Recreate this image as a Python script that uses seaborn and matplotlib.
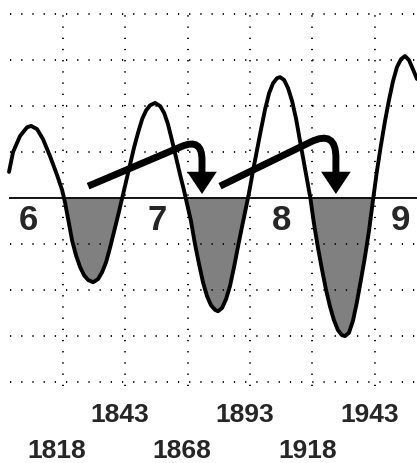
import matplotlib
matplotlib.use('Agg')
import matplotlib.pyplot as plt
import seaborn as sns
import numpy as np

# long wave (x in years, y in grid steps)
years = [1798.8, 1800.4, 1803.2, 1806.0, 1807.6, 1810.0, 1812.4, 1815.2, 1818.0, 1820.0,
         1821.2, 1822.4, 1824.0, 1825.6, 1827.2, 1828.8, 1830.4, 1832.4, 1834.4, 1836.0,
         1837.6, 1839.2, 1840.8, 1842.4, 1844.0, 1845.6, 1847.2, 1848.8, 1850.4, 1852.0,
         1853.6, 1855.2, 1857.2, 1859.2, 1860.8, 1862.3, 1863.9, 1865.5, 1867.1, 1868.7,
         1869.9, 1871.5, 1873.1, 1874.7, 1876.3, 1877.9, 1879.5, 1881.1, 1882.3, 1883.9,
         1885.5, 1887.1, 1888.7, 1890.3, 1891.9, 1893.5, 1894.7, 1896.3, 1897.9, 1899.5,
         1901.1, 1902.7, 1904.3, 1905.9, 1907.1, 1908.7, 1910.3, 1911.9, 1913.5, 1915.0,
         1916.6, 1918.2, 1919.2, 1920.6, 1922.2, 1923.8, 1925.4, 1927.0, 1928.6, 1930.2,
         1931.8, 1933.0, 1934.6, 1936.2, 1937.8, 1939.4, 1941.0, 1942.6, 1944.2, 1945.8,
         1947.4, 1949.0, 1950.6, 1952.2, 1953.8, 1955.4, 1957.0, 1958.6, 1960.2, 1961.8]
values = [0.57, 1.00, 1.35, 1.54, 1.57, 1.50, 1.28, 0.91, 0.50, 0.18,
          -0.10, -0.45, -0.92, -1.25, -1.50, -1.68, -1.78, -1.83, -1.76, -1.61,
          -1.39, -1.07, -0.72, -0.37, 0.00, 0.37, 0.74, 1.11, 1.43, 1.72,
          1.91, 2.02, 2.07, 2.00, 1.85, 1.61, 1.26, 0.89, 0.52, 0.17,
          -0.12, -0.50, -1.00, -1.43, -1.83, -2.13, -2.33, -2.43, -2.46, -2.39,
          -2.20, -1.91, -1.50, -1.05, -0.62, -0.20, 0.12, 0.60, 1.05, 1.50,
          1.93, 2.28, 2.50, 2.61, 2.63, 2.57, 2.39, 2.11, 1.72, 1.26,
          0.78, 0.30, 0.00, -0.54, -1.07, -1.54, -1.98, -2.35, -2.65, -2.87,
          -2.98, -3.00, -2.93, -2.67, -2.26, -1.78, -1.28, -0.72, -0.05, 0.59,
          1.15, 1.67, 2.13, 2.54, 2.85, 3.02, 3.09, 3.00, 2.80, 2.59]

cycle_labels = ['6', '7', '8', '9']
cycle_years = [1806.5, 1858.0, 1907.5, 1955.0]

year_labels = [1818, 1843, 1868, 1893, 1918, 1943]

# arrows: (start year, start value) -> (tip year, tip value)
arrow_starts = [(1830.4, 0.26), (1883.1, 0.26)]
arrow_tips = [(1875.9, 0.09), (1929.4, 0.09)]

grid_x = [1820.4, 1845.3, 1870.2, 1895.1, 1920.0, 1944.9]
grid_y = [-4, -3, -2, -1, 1, 2, 3, 4]

sns.set_style('white')
fig = plt.figure(figsize=(4.17, 4.64), dpi=100)
ax = fig.add_axes([0, 0, 1, 1])
ax.set_xlim(1795.2, 1961.8)
ax.set_ylim(-5.76, 4.33)
ax.set_axis_off()

dots = (0, (0.7, 5.5))
ax.hlines(grid_y, 1799.2, 1961.8, colors='black', linewidth=1.3, linestyles=[dots])
ax.vlines(grid_x, -4.08, 4.0, colors='black', linewidth=1.3, linestyles=[dots])

y = np.array(values)
ax.fill_between(years, y, 0, where=y <= 0, interpolate=True, color='#808080', linewidth=0)
ax.hlines(0, 1798.8, 1961.8, colors='black', linewidth=1.3)

sns.lineplot(x=years, y=values, ax=ax, color='black', linewidth=2.8,
             estimator=None, sort=False)

for lab, yr in zip(cycle_labels, cycle_years):
    ax.text(yr, -0.47, lab, ha='center', va='center', fontsize=25,
            fontweight='bold', family='Liberation Sans')

for i, yr in enumerate(year_labels):
    row = -5.48 if i % 2 == 0 else -4.70
    ax.text(yr, row, str(yr), ha='center', va='center', fontsize=19,
            fontweight='bold', family='Liberation Sans')

for (sx, sy), (tx, ty), ang, rad in zip(arrow_starts, arrow_tips, [23, 26], [22, 28]):
    ax.annotate('', xy=(tx, ty), xytext=(sx, sy),
                arrowprops=dict(arrowstyle='-|>,head_length=9,head_width=6',
                                connectionstyle=f'angle,angleA={ang},angleB=90,rad={rad}',
                                color='black', linewidth=5, shrinkA=0, shrinkB=0,
                                mutation_scale=1, joinstyle='miter', capstyle='butt'))

fig.savefig('out.png', dpi=100)
plt.close(fig)
